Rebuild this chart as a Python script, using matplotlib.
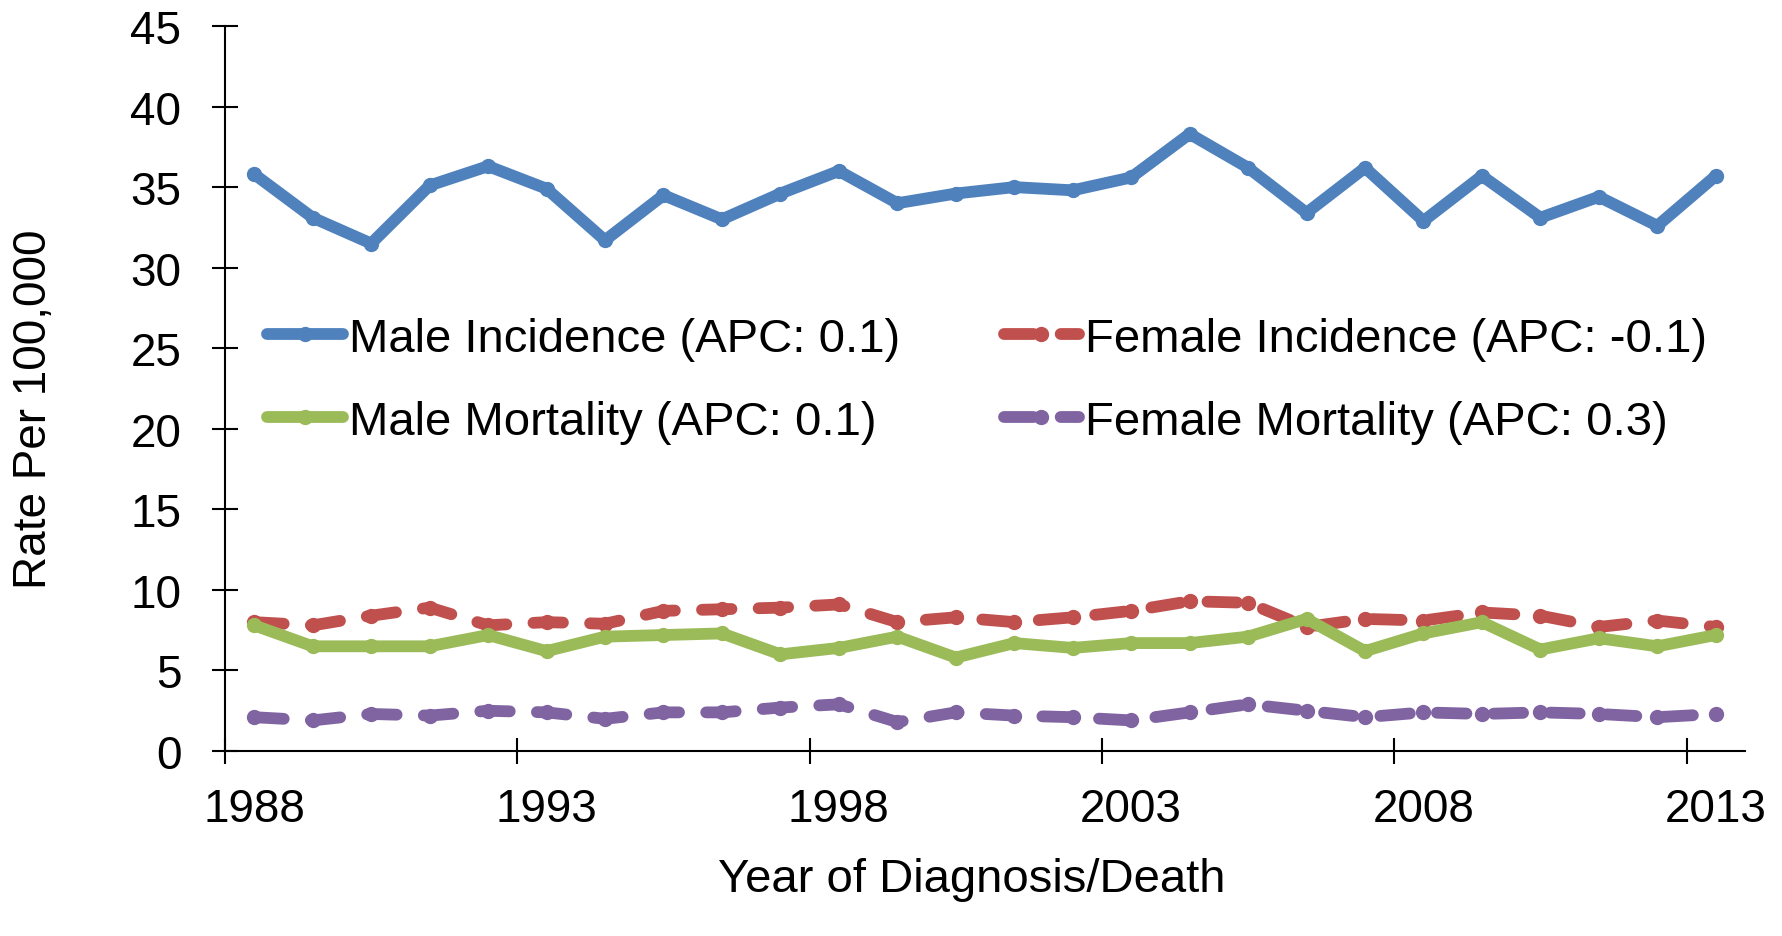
import matplotlib.pyplot as plt
import numpy as np

plt.rcParams['font.family'] = ['Liberation Sans', 'DejaVu Sans']

years = list(range(1988, 2014))

male_incidence = [35.8, 33.1, 31.5, 35.1, 36.3, 34.9, 31.7, 34.5, 33.0, 34.6, 36.0, 34.0, 34.6,
                  35.0, 34.8, 35.6, 38.3, 36.2, 33.4, 36.2, 32.9, 35.7, 33.1, 34.4, 32.6, 35.7]
female_incidence = [8.0, 7.8, 8.4, 8.9, 7.8, 8.0, 7.9, 8.7, 8.8, 8.9, 9.1, 8.0, 8.3,
                    8.0, 8.3, 8.7, 9.3, 9.2, 7.7, 8.2, 8.1, 8.6, 8.4, 7.7, 8.1, 7.7]
male_mortality = [7.8, 6.5, 6.5, 6.5, 7.2, 6.2, 7.1, 7.2, 7.3, 6.0, 6.4, 7.1, 5.8,
                  6.7, 6.4, 6.7, 6.7, 7.1, 8.2, 6.2, 7.3, 8.0, 6.3, 7.0, 6.5, 7.2]
female_mortality = [2.1, 1.9, 2.3, 2.2, 2.5, 2.4, 2.0, 2.4, 2.4, 2.7, 2.9, 1.8, 2.4,
                    2.2, 2.1, 1.9, 2.4, 2.9, 2.5, 2.1, 2.4, 2.3, 2.4, 2.3, 2.1, 2.3]

labels = ["Male Incidence (APC: 0.1)", "Female Incidence (APC: -0.1)",
          "Male Mortality (APC: 0.1)", "Female Mortality (APC: 0.3)"]
colors = ["#4F81BD", "#C0504D", "#9BBB59", "#8064A2"]

fig = plt.figure(figsize=(17.83, 9.37), dpi=100)
ax = fig.add_axes([0.1262, 0.1974, 0.8525, 0.7738])

lw = 8.5
handles = []
series = [male_incidence, female_incidence, male_mortality, female_mortality]
for i, vals in enumerate(series):
    line, = ax.plot(years, vals, color=colors[i], lw=lw, marker='o', markersize=10,
                    solid_capstyle='round', dash_capstyle='round', solid_joinstyle='round',
                    label=labels[i], zorder=3 + i)
    if i in (1, 3):
        line.set_dashes((2.5, 2.3))
    handles.append(line)

ax.set_xlim(1987.5, 2013.5)
ax.set_ylim(0, 45)
ax.set_yticks(np.arange(0, 46, 5))
ax.set_xticks(years[::5])
ax.set_xticks(np.arange(1987.5, 2013, 5), minor=True)

for s in ['top', 'right']:
    ax.spines[s].set_visible(False)
for s in ['left', 'bottom']:
    ax.spines[s].set_linewidth(1.5)

ax.tick_params(axis='y', direction='inout', length=19, width=1.5, pad=22, labelsize=33)
ax.tick_params(axis='x', which='major', length=0, pad=26, labelsize=33)
ax.tick_params(axis='x', which='minor', direction='inout', length=19, width=1.5)

ax.set_ylabel("Rate Per 100,000", fontsize=33, va='center')
ax.yaxis.set_label_coords(-0.1257, 0.473)
ax.set_xlabel("Year of Diagnosis/Death", fontsize=34, va='center')
ax.xaxis.set_label_coords(0.491, -0.176)

# Excel fills legend rows first, matplotlib fills columns first
order = [0, 2, 1, 3]
ax.legend([handles[k] for k in order], [labels[k] for k in order], ncol=2,
          loc='upper left', bbox_to_anchor=(267 / 1783, 1 - 318 / 937),
          bbox_transform=fig.transFigure, frameon=False, fontsize=34,
          handlelength=1.6, handletextpad=0.13, columnspacing=2.2,
          labelspacing=0.82, borderpad=0, borderaxespad=0)

fig.savefig("out.png", dpi=100)
